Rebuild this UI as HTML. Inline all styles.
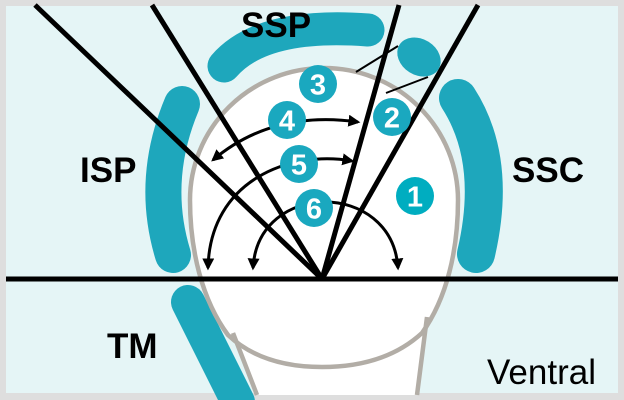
<!DOCTYPE html>
<html><head><meta charset="utf-8"><style>
html,body{margin:0;padding:0;background:#dedede;}
svg{display:block;}
text{font-family:"Liberation Sans",Arial,sans-serif;}
</style></head><body>
<svg width="624" height="400" viewBox="0 0 624 400">
<defs>
<marker id="ah" viewBox="0 0 10 10" refX="8" refY="5" markerWidth="4" markerHeight="4" orient="auto-start-reverse"><path d="M0,0 L10,5 L0,10 Z" fill="#000"/></marker>
</defs>
<rect x="0" y="0" width="624" height="400" fill="#dedede"/>
<rect x="6" y="6" width="612" height="387" fill="#e5f5f6"/>
<g fill="none" stroke="#1ea7bc" stroke-linecap="round">
<path d="M224,66 Q262,22 368,30" stroke-width="33"/>
<path d="M182,104 Q150,180 173,255" stroke-width="36"/>
<path d="M458,98 Q498,160 476,254" stroke-width="38"/>
<path d="M188,302 L238,402" stroke-width="34"/>
</g>
<ellipse cx="419" cy="57" rx="23" ry="18" transform="rotate(32 419 57)" fill="#1ea7bc"/>
<g>
<path d="M233,333 L257,395 L417,395 L427,317 Z" fill="#fff"/>
<path d="M190,200 A134,132 0 0 1 458,200 C458,250 447,298 422,333 Q385,367 322,367 Q262,367 228,335 C202,300 190,250 190,200 Z" fill="#fff" stroke="#b2ada6" stroke-width="4.5"/>
<path d="M233,333 L257,395 M427,317 L417,395" stroke="#b2ada6" stroke-width="4.5" fill="none"/>
</g>
<g stroke="#000" fill="none">
<line x1="6" y1="279" x2="618" y2="279" stroke-width="5"/>
<line x1="35" y1="5" x2="322" y2="279" stroke-width="5"/>
<line x1="152" y1="5" x2="322" y2="279" stroke-width="5"/>
<line x1="399" y1="5" x2="322" y2="279" stroke-width="5"/>
<line x1="478" y1="5" x2="322" y2="279" stroke-width="5"/>
<line x1="356" y1="72" x2="398" y2="46" stroke-width="2"/>
<line x1="386" y1="93" x2="428" y2="77" stroke-width="2"/>
</g>
<g stroke="#000" fill="none" stroke-width="3">
<path d="M213,160 Q272,110 358,122" marker-start="url(#ah)" marker-end="url(#ah)"/>
<path d="M352,161 C290,150 210,180 208,268" marker-start="url(#ah)" marker-end="url(#ah)"/>
<path d="M253,268 C258,180 392,180 398,268" marker-start="url(#ah)" marker-end="url(#ah)"/>
</g>
<g font-weight="bold" font-size="29" fill="#fff" text-anchor="middle">
<circle cx="318" cy="84" r="19" fill="#1aa8bf"/><text x="318" y="94.5">3</text>
<circle cx="392" cy="117" r="19" fill="#1aa8bf"/><text x="392" y="127.5">2</text>
<circle cx="287" cy="120" r="19" fill="#1aa8bf"/><text x="287" y="130.5">4</text>
<circle cx="299" cy="164" r="19" fill="#1aa8bf"/><text x="299" y="174.5">5</text>
<circle cx="314" cy="208" r="19" fill="#1aa8bf"/><text x="314" y="218.5">6</text>
<circle cx="415" cy="196" r="19" fill="#00adc0"/><text x="415" y="206.5">1</text>
</g>
<g font-weight="bold" font-size="35" fill="#000">
<text x="241" y="37">SSP</text>
<text x="80" y="182">ISP</text>
<text x="512" y="182">SSC</text>
<text x="107" y="358">TM</text>
</g>
<text x="487" y="384" font-size="35" fill="#000">Ventral</text>
</svg>
</body></html>
